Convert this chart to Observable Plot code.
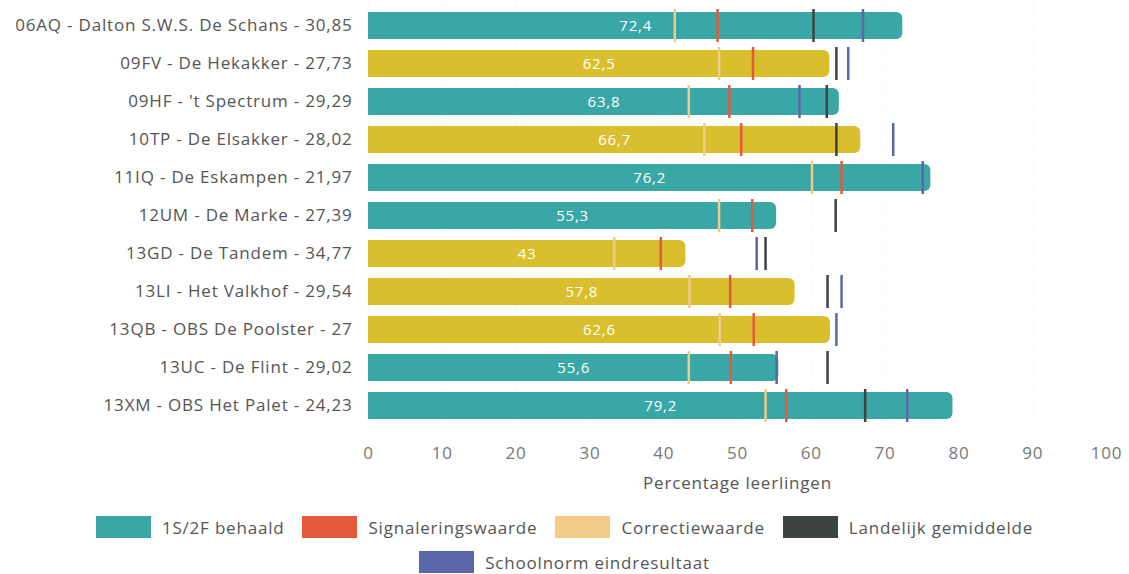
<!DOCTYPE html>
<html>
<head>
<meta charset="utf-8">
<script src="https://cdn.jsdelivr.net/npm/d3@7"></script>
<script src="https://cdn.jsdelivr.net/npm/@observablehq/plot@0.6"></script>
<style>
  body { margin: 0; background: #fff; font-family: "Open Sans", sans-serif; }
  #chart { width: 1129px; }
  .legend { width: 1010px; margin: 0 auto; padding-top: 16px; display: flex; flex-wrap: wrap; justify-content: center; row-gap: 13px; column-gap: 18px; color: #555; font-size: 17px; letter-spacing: 0.8px; }
  .item { display: flex; align-items: center; height: 22px; }
  .sw { width: 55px; height: 22px; margin-right: 11px; }
</style>
</head>
<body>
<div id="chart"></div>
<script>
const schools = [
  "06AQ - Dalton S.W.S. De Schans - 30,85",
  "09FV - De Hekakker - 27,73",
  "09HF - 't Spectrum - 29,29",
  "10TP - De Elsakker - 28,02",
  "11IQ - De Eskampen - 21,97",
  "12UM - De Marke - 27,39",
  "13GD - De Tandem - 34,77",
  "13LI - Het Valkhof - 29,54",
  "13QB - OBS De Poolster - 27",
  "13UC - De Flint - 29,02",
  "13XM - OBS Het Palet - 24,23"
];
const scores      = [72.4, 62.5, 63.8, 66.7, 76.2, 55.3, 43, 57.8, 62.6, 55.6, 79.2];
const behaald     = [true, false, true, false, true, true, false, false, false, true, true];
const correctie   = [41.5, 47.5, 43.4, 45.5, 60.1, 47.5, 33.3, 43.5, 47.6, 43.4, 53.8];
const signalering = [47.3, 52.1, 48.9, 50.5, 64.1, 52.0, 39.6, 49.0, 52.2, 49.1, 56.6];
const landelijk   = [60.3, 63.4, 62.1, 63.4, null, 63.3, 53.8, 62.2, null, 62.2, 67.3];
const schoolnorm  = [67.0, 65.0, 58.4, 71.1, 75.1, null, 52.6, 64.1, 63.4, 55.3, 73.0];
const xTicks = [0, 10, 20, 30, 40, 50, 60, 70, 80, 90, 100];
const legendNames = ["1S/2F behaald", "Signaleringswaarde", "Correctiewaarde", "Landelijk gemiddelde", "Schoolnorm eindresultaat"];
const legendColors = ["#38a7a6", "#e35b3b", "#f2cb87", "#3d4242", "#5a68a9"];
const yellow = "#d9bf2d";

const rows = schools.map((s, i) => ({school: s, score: scores[i], behaald: behaald[i]}));
const markerSets = [
  {values: correctie, color: legendColors[2]},
  {values: signalering, color: legendColors[1]},
  {values: landelijk, color: legendColors[3]},
  {values: schoolnorm, color: legendColors[4]}
];
const markers = [];
markerSets.forEach(m => m.values.forEach((v, i) => { if (v != null) markers.push({school: schools[i], v, color: m.color}); }));

const fmt = v => String(v).replace(".", ",");

const chart = Plot.plot({
  width: 1129,
  height: 500,
  marginLeft: 368,
  marginRight: 23,
  marginTop: 0,
  marginBottom: 70,
  style: {fontFamily: "Open Sans, sans-serif", fontSize: "17px", color: "#555", letterSpacing: "0.8px"},
  x: {domain: [0, 100], axis: null},
  y: {domain: schools, padding: 0.3, axis: null},
  marks: [
    Plot.ruleX(xTicks, {stroke: "#ccc", strokeOpacity: 0.35, strokeDasharray: "1,4"}),
    Plot.barX(rows, {y: "school", x: "score", fill: d => d.behaald ? legendColors[0] : yellow, rx: 6}),
    Plot.barX(rows, {y: "school", x: d => d.score / 2, fill: d => d.behaald ? legendColors[0] : yellow}),
    Plot.tickX(markers, {y: "school", x: "v", stroke: "color", strokeWidth: 2.5, insetTop: -3, insetBottom: -3}),
    Plot.text(rows, {y: "school", x: d => d.score / 2, text: d => fmt(d.score), fill: "white", fontSize: 15}),
    Plot.axisY({tickSize: 0, tickPadding: 16, fontSize: 17, color: "#555", label: null}),
    Plot.axisX(xTicks, {tickSize: 0, tickPadding: 16, fontSize: 17, color: "#777", label: null}),
    Plot.text(["Percentage leerlingen"], {frameAnchor: "bottom", dy: 58, fontSize: 17, fill: "#555"})
  ]
});
document.getElementById("chart").appendChild(chart);

const legend = document.createElement("div");
legend.className = "legend";
legendNames.forEach((n, i) => {
  const it = document.createElement("div");
  it.className = "item";
  const sw = document.createElement("div");
  sw.className = "sw";
  sw.style.background = legendColors[i];
  const t = document.createElement("span");
  t.textContent = n;
  it.appendChild(sw); it.appendChild(t);
  legend.appendChild(it);
});
document.getElementById("chart").appendChild(legend);
</script>
</body>
</html>
